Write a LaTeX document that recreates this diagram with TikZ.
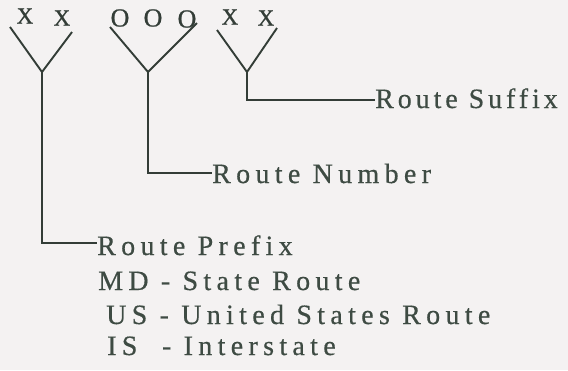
\documentclass[tikz,border=0pt]{standalone}
\usepackage{fontspec}
\setmainfont{Liberation Serif}[LetterSpace=19,FakeBold=0.5]
\newfontfamily\tightfont{Liberation Serif}[LetterSpace=14,FakeBold=0.5]
\newfontfamily\glyphfont{Liberation Serif}[FakeBold=0.8]
\definecolor{bgc}{HTML}{F4F2F2}
\definecolor{inkc}{HTML}{333D37}
\definecolor{txtc}{HTML}{3E4B43}
\begin{document}
\begin{tikzpicture}[x=1pt,y=-1pt,
  lbl/.style={anchor=base west,inner sep=0pt,text=txtc,font=\fontsize{28}{32}\selectfont},
  mark x/.style={inner sep=0pt,text=inkc,font=\glyphfont\fontsize{23}{25}\selectfont},
  mark o/.style={inner sep=0pt,text=inkc,font=\glyphfont\fontsize{26}{28}\selectfont},
  conn/.style={draw=inkc,line width=1.9pt,line join=miter}]
\fill[bgc] (0,0) rectangle (568,370);
\useasboundingbox (0,0) rectangle (568,370);
% glyphs
\node[mark x] (x1) at (25,16) {X};
\node[mark x] (x2) at (62,18) {X};
\node[mark o] (o1) at (120,18) {O};
\node[mark o] (o2) at (153,18) {O};
\node[mark o] (o3) at (187,19) {O};
\node[mark x] (x3) at (230,17) {X};
\node[mark x] (x4) at (266,18) {X};
% Y arms
\coordinate (l1) at (10,27);  \coordinate (r1) at (72,32);  \coordinate (j1) at (42,72);
\coordinate (l2) at (110,27); \coordinate (r2) at (197,23); \coordinate (j2) at (148,72);
\coordinate (l3) at (217,30); \coordinate (r3) at (277,28); \coordinate (j3) at (247,72);
% labels
\node[lbl,font=\tightfont\fontsize{28}{32}\selectfont] (suffix) at (375,108) {Route Suffix};
\node[lbl] (number) at (212,183) {Route Number};
\node[lbl] (prefix) at (97,255) {Route Prefix};
\node[lbl] (md) at (98,290) {MD - State Route};
\node[lbl] (us) at (106,324) {US - United States Route};
\node[lbl] (is) at (107,355) {IS \ - Interstate};
% connector ends
\coordinate (e3) at (375,100);
\coordinate (e2) at (212,173);
\coordinate (e1) at (97,243);
\draw[conn] (l1) -- (j1) -- (r1);
\draw[conn] (l2) -- (j2) -- (r2);
\draw[conn] (l3) -- (j3) -- (r3);
\draw[conn] (j1) |- (e1);
\draw[conn] (j2) |- (e2);
\draw[conn] (j3) |- (e3);
\end{tikzpicture}
\end{document}
